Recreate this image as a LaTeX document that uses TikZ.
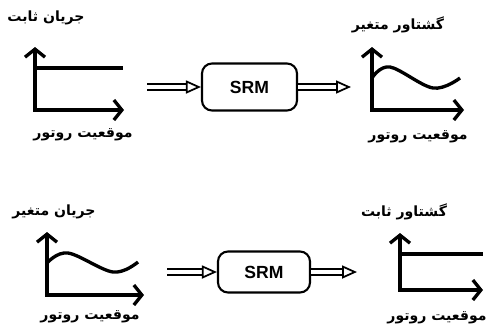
\documentclass[tikz,border=0pt]{standalone}
\usepackage{fontspec}
\setmainfont{Liberation Sans}
\newfontfamily\farsifont[Script=Arabic]{DejaVu Sans}
\TeXXeTstate=1
\usetikzlibrary{arrows.meta, positioning}

\newcommand{\fatext}[1]{{\farsifont\bfseries\beginR #1\endR}}

\begin{document}
\begin{tikzpicture}[x=0.02cm, y=-0.02cm,
				MotorBox/.style={rectangle, draw, line width=1.2pt, rounded corners=2mm, minimum width=1.9cm, minimum height=0.94cm, font=\fontsize{10}{12}\selectfont\bfseries},
				FaLabel/.style={inner sep=0pt, font=\fontsize{8}{9}\selectfont},
				AxisLine/.style={line width=1.9pt, {Straight Barb[length=1.6mm, width=4mm, line width=1.9pt]}-{Straight Barb[length=1.6mm, width=4mm, line width=1.9pt]}},
				PlotLine/.style={line width=1.9pt},
				HollowArrow/.style={line width=1pt, double=white, double distance=0.8mm, -{Triangle[open, length=3mm, width=2.6mm, line width=1pt]}}]

			\useasboundingbox (0,0) rectangle (490,329);

			% Nodes
			\node[MotorBox] (SRMtop) at (249.5,87) {SRM};
			\node[MotorBox, minimum width=1.84cm, minimum height=0.82cm] (SRMbottom) at (264,272) {SRM};

			\node[FaLabel] (CurTop) at (46,18) {\fatext{جریان ثابت}};
			\node[FaLabel] (PosTopL) at (83,135) {\fatext{موقعیت روتور}};
			\node[FaLabel] (TorTop) at (398,25) {\fatext{گشتاور متغیر}};
			\node[FaLabel] (PosTopR) at (418,137) {\fatext{موقعیت روتور}};

			\node[FaLabel] (CurBottom) at (54,212) {\fatext{جریان متغیر}};
			\node[FaLabel] (PosBotL) at (90,317) {\fatext{موقعیت روتور}};
			\node[FaLabel] (TorBottom) at (404,212) {\fatext{گشتاور ثابت}};
			\node[FaLabel] (PosBotR) at (437,318) {\fatext{موقعیت روتور}};

			\coordinate (InTop) at (147,87);
			\coordinate (OutTop) at (351,87);
			\coordinate (InBottom) at (167,272);
			\coordinate (OutBottom) at (357,272);

			% Graphs
			\draw[AxisLine] (35,47) -- (35,110) -- (124,110);
			\draw[PlotLine] (35,68) -- (123,68);

			\draw[AxisLine] (372,47) -- (372,110) -- (464,110);
			\draw[PlotLine] plot[smooth, tension=0.6] coordinates {(372,78) (390,67) (433,88) (460,78)};

			\draw[AxisLine] (47,232) -- (47,295) -- (144,295);
			\draw[PlotLine] plot[smooth, tension=0.6] coordinates {(47,263) (68,253) (113,272) (138,262)};

			\draw[AxisLine] (400,233) -- (400,290) -- (483,290);
			\draw[PlotLine] (400,254) -- (483,254);

			% Lines
			\draw[HollowArrow] (InTop) -- (SRMtop.west);
			\draw[HollowArrow] (SRMtop.east) -- (OutTop);
			\draw[HollowArrow] (InBottom) -- (SRMbottom.west);
			\draw[HollowArrow] (SRMbottom.east) -- (OutBottom);
		\end{tikzpicture}
\end{document}
